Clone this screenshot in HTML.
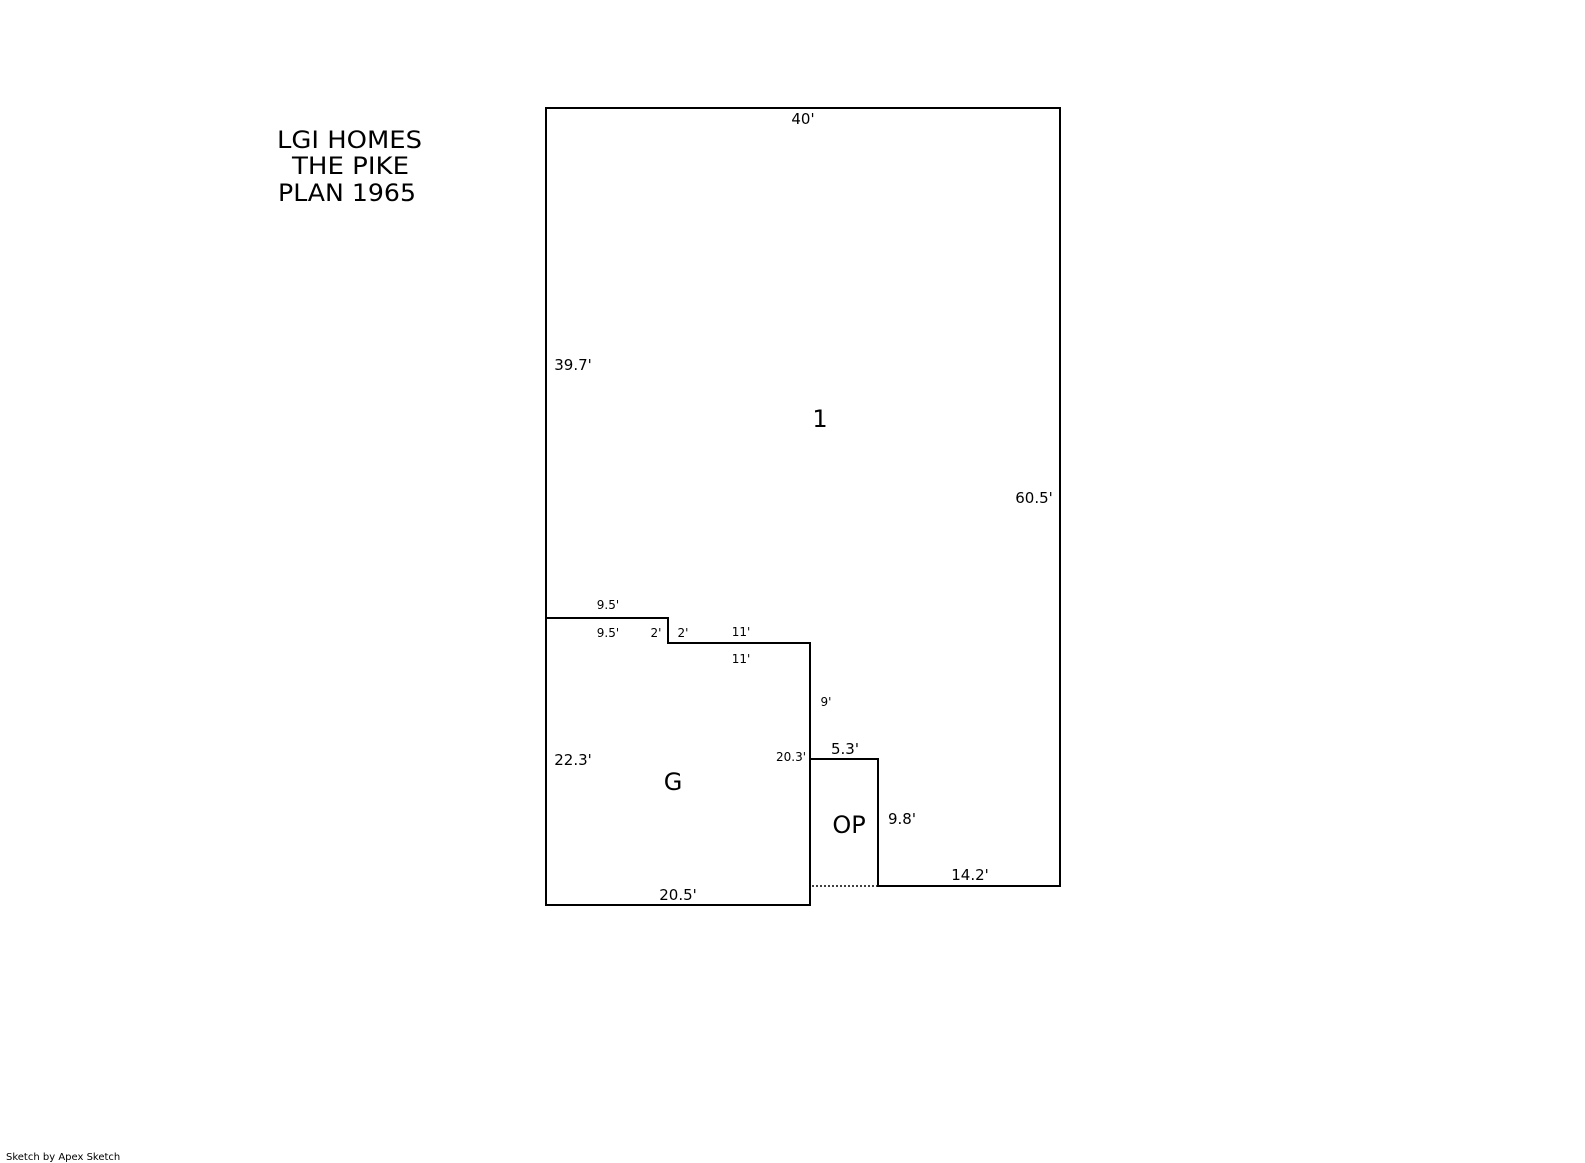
<!DOCTYPE html>
<html><head><style>
html,body{margin:0;padding:0;background:#fff;}
svg{display:block;}
text{font-family:"DejaVu Sans","Liberation Sans",sans-serif;fill:#000;}
</style></head><body>
<svg width="1585" height="1163" viewBox="0 0 1585 1163" xmlns="http://www.w3.org/2000/svg">
<rect width="1585" height="1163" fill="#fff"/>
<g fill="none" stroke="#000" stroke-width="2">
<polyline points="546,618 546,108 1060,108 1060,886 878,886 878,759 810,759 810,643 668,643 668,618 546,618"/>
<polyline points="546,618 546,905 810,905 810,759"/>
<line x1="812" y1="886" x2="878" y2="886" stroke-dasharray="2,2" stroke-width="1.5"/>
</g>
<g font-size="24">
<text x="277" y="148" textLength="145" lengthAdjust="spacingAndGlyphs">LGI HOMES</text>
<text x="292" y="174" textLength="117" lengthAdjust="spacingAndGlyphs">THE PIKE</text>
<text x="278" y="201" textLength="138" lengthAdjust="spacingAndGlyphs">PLAN 1965</text>
</g>
<g font-size="15" text-anchor="middle">
<text x="803" y="124">40'</text>
<text x="573" y="370">39.7'</text>
<text x="1034" y="503">60.5'</text>
<text x="573" y="765">22.3'</text>
<text x="678" y="900">20.5'</text>
<text x="845" y="754">5.3'</text>
<text x="902" y="824">9.8'</text>
<text x="970" y="880">14.2'</text>
</g>
<g font-size="12" text-anchor="middle">
<text x="608" y="609">9.5'</text>
<text x="608" y="637">9.5'</text>
<text x="656" y="637">2'</text>
<text x="683" y="637">2'</text>
<text x="741" y="636">11'</text>
<text x="741" y="663">11'</text>
<text x="826" y="706">9'</text>
<text x="791" y="761">20.3'</text>
</g>
<g font-size="24" text-anchor="middle">
<text x="820" y="427">1</text>
<text x="673" y="790">G</text>
<text x="849" y="833">OP</text>
</g>
<text x="6" y="1160" font-size="10">Sketch by Apex Sketch</text>
</svg>
</body></html>
